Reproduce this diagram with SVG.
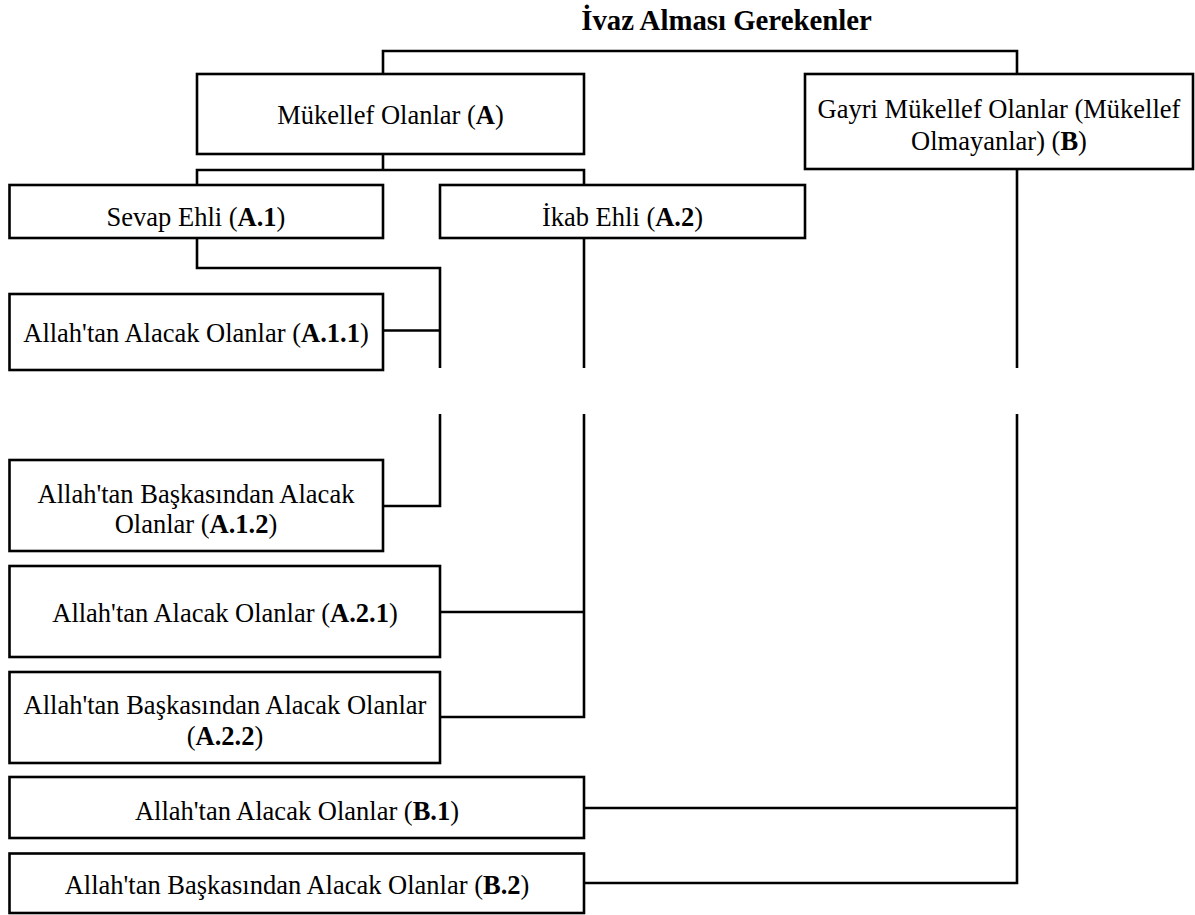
<svg xmlns="http://www.w3.org/2000/svg" width="1195" height="915" viewBox="0 0 1195 915">
<style>
.box{fill:#fff;stroke:#000;stroke-width:2.6}
.conn{fill:none;stroke:#000;stroke-width:2.6}
.lbl{font-family:"Liberation Serif","Times New Roman",serif;font-size:26.5px;text-anchor:middle;fill:#000}
.b{font-weight:bold}
.title{font-family:"Liberation Serif","Times New Roman",serif;font-size:28.8px;font-weight:bold;text-anchor:middle;fill:#000}
</style>
<rect width="1195" height="915" fill="#fff"/>
<text class="title" x="726.5" y="29.5">İvaz Alması Gerekenler</text>
<g id="connectors">
<path class="conn" d="M383,74 V51 H1017 V74"/>
<path class="conn" d="M383,154 V170 M197,185 V170 H584 V185"/>
<path class="conn" d="M197,238 V268 H440 V368"/>
<path class="conn" d="M383,330.5 H440"/>
<path class="conn" d="M440,414 V506 H383"/>
<path class="conn" d="M584,238 V368"/>
<path class="conn" d="M584,414 V717 H440"/>
<path class="conn" d="M440,612 H584"/>
<path class="conn" d="M1017,169 V368"/>
<path class="conn" d="M1017,414 V883 H584"/>
<path class="conn" d="M584,808 H1017"/>
</g>
<g id="nodeA"><rect class="box" x="197" y="74" width="387" height="80"/><text class="lbl" x="390.5" y="124">Mükellef Olanlar (<tspan class="b">A</tspan>)</text></g>
<g id="nodeB"><rect class="box" x="805" y="74" width="388" height="95"/><text class="lbl" x="999" y="118">Gayri Mükellef Olanlar (Mükellef</text><text class="lbl" x="999" y="150">Olmayanlar) (<tspan class="b">B</tspan>)</text></g>
<g id="nodeA1"><rect class="box" x="9.5" y="185" width="373.5" height="53"/><text class="lbl" x="196" y="226">Sevap Ehli (<tspan class="b">A.1</tspan>)</text></g>
<g id="nodeA2"><rect class="box" x="440" y="185" width="365" height="53"/><text class="lbl" x="622.5" y="226">İkab Ehli (<tspan class="b">A.2</tspan>)</text></g>
<g id="nodeA11"><rect class="box" x="9.5" y="294" width="373.5" height="76"/><text class="lbl" x="196" y="341.5">Allah'tan Alacak Olanlar (<tspan class="b">A.1.1</tspan>)</text></g>
<g id="nodeA12"><rect class="box" x="9.5" y="460" width="373.5" height="91"/><text class="lbl" x="196" y="503">Allah'tan Başkasından Alacak</text><text class="lbl" x="196" y="533">Olanlar (<tspan class="b">A.1.2</tspan>)</text></g>
<g id="nodeA21"><rect class="box" x="9.5" y="566" width="430.5" height="91"/><text class="lbl" x="225" y="621.5">Allah'tan Alacak Olanlar (<tspan class="b">A.2.1</tspan>)</text></g>
<g id="nodeA22"><rect class="box" x="9.5" y="672" width="430.5" height="91"/><text class="lbl" x="225" y="713.5">Allah'tan Başkasından Alacak Olanlar</text><text class="lbl" x="225" y="745">(<tspan class="b">A.2.2</tspan>)</text></g>
<g id="nodeB1"><rect class="box" x="9.5" y="777" width="574.5" height="61"/><text class="lbl" x="297" y="820">Allah'tan Alacak Olanlar (<tspan class="b">B.1</tspan>)</text></g>
<g id="nodeB2"><rect class="box" x="9.5" y="853.5" width="574.5" height="59.5"/><text class="lbl" x="297" y="894">Allah'tan Başkasından Alacak Olanlar (<tspan class="b">B.2</tspan>)</text></g>
</svg>
